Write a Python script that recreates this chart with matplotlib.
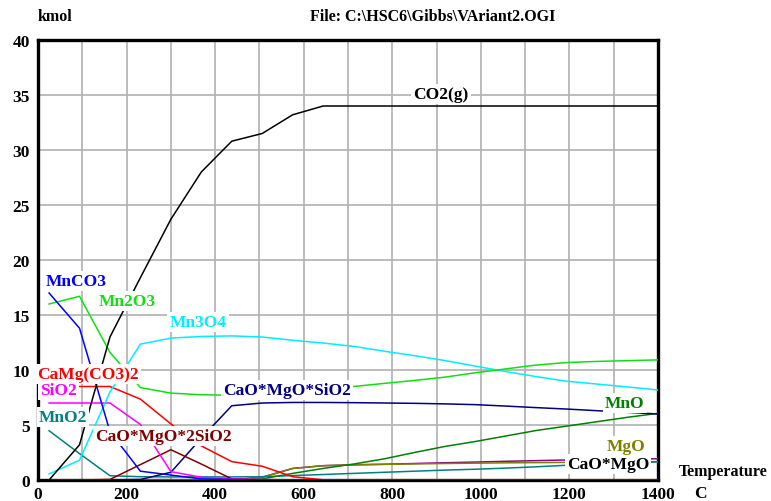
import matplotlib
matplotlib.use("Agg")
import matplotlib.pyplot as plt
from matplotlib.ticker import MultipleLocator

# equilibrium temperatures (C), 20 steps from 25 to 1400
temps = [25, 93.75, 162.5, 231.25, 300, 368.75, 437.5, 506.25, 575, 643.75,
         712.5, 781.25, 850, 918.75, 987.5, 1056.25, 1125, 1193.75, 1262.5,
         1331.25, 1400]

co2 = [0, 3.2, 13.0, 18.4, 23.7, 28.0, 30.8, 31.5, 33.2, 34.0,
       34.0, 34.0, 34.0, 34.0, 34.0, 34.0, 34.0, 34.0, 34.0, 34.0, 34.0]
mnco3 = [17.0, 13.8, 4.4, 0.8, 0.45, 0.1, 0.05, 0, 0, 0,
         0, 0, 0, 0, 0, 0, 0, 0, 0, 0, 0]
mn2o3 = [16.0, 16.7, 11.6, 8.4, 7.9, 7.75, 7.7, 7.75, 7.9, 8.2,
         8.5, 8.78, 9.05, 9.35, 9.75, 10.1, 10.45, 10.68, 10.78, 10.85, 10.92]
mn3o4 = [0.55, 1.8, 8.0, 12.35, 12.9, 13.05, 13.1, 13.0, 12.7, 12.45,
         12.15, 11.71, 11.3, 10.86, 10.35, 9.86, 9.4, 8.98, 8.72, 8.46, 8.18]
camgco3 = [8.5, 8.5, 8.5, 7.35, 5.1, 3.1, 1.67, 1.25, 0.3, 0.02,
           0, 0, 0, 0, 0, 0, 0, 0, 0, 0, 0]
sio2 = [7.0, 7.0, 7.0, 5.05, 0.76, 0.25, 0.1, 0.05, 0, 0,
        0, 0, 0, 0, 0, 0, 0, 0, 0, 0, 0]
mno2 = [4.48, 2.4, 0.39, 0.3, 0.28, 0.28, 0.28, 0.3, 0.4, 0.5,
        0.6, 0.7, 0.8, 0.9, 0.98, 1.08, 1.2, 1.34, 1.45, 1.55, 1.65]
cms2 = [0, 0, 0.05, 1.4, 2.75, 1.45, 0.1, 0, 0, 0,
        0, 0, 0, 0, 0, 0, 0, 0, 0, 0, 0]
cms = [0, 0, 0, 0.05, 0.7, 3.8, 6.75, 7.0, 7.05, 7.05,
       7.03, 7.0, 6.97, 6.92, 6.85, 6.72, 6.58, 6.45, 6.3, 6.15, 6.0]
mno = [0, 0, 0, 0, 0, 0.02, 0.05, 0.1, 0.6, 1.05,
       1.45, 1.92, 2.5, 3.05, 3.5, 4.0, 4.5, 4.9, 5.3, 5.7, 6.06]
mgo = [0, 0, 0, 0, 0, 0, 0, 0.25, 1.05, 1.3,
       1.38, 1.42, 1.46, 1.5, 1.53, 1.56, 1.58, 1.6, 1.62, 1.64, 1.66]
cao_mgo = [0, 0, 0, 0, 0, 0, 0, 0.25, 1.05, 1.3,
           1.38, 1.43, 1.5, 1.57, 1.63, 1.7, 1.76, 1.82, 1.86, 1.9, 1.93]

# (series, line colour, label text, label T, label kmol, text colour)
series = [
    (cao_mgo, "#900090", "CaO*MgO", 1287, 1.45, "black"),
    (mgo, "#808000", "MgO", 1327, 3.1, "#808000"),
    (mno2, "#008080", "MnO2", 56, 5.7, "#008080"),
    (mno, "#008000", "MnO", 1325, 7.0, "#008000"),
    (cms, "#000080", "CaO*MgO*SiO2", 562, 8.2, "#000080"),
    (cms2, "#800000", "CaO*MgO*2SiO2", 284, 4.0, "#800000"),
    (camgco3, "#ff0000", "CaMg(CO3)2", 113, 9.6, "#ff0000"),
    (sio2, "#ff00ff", "SiO2", 47, 8.2, "#ff00ff"),
    (mn3o4, "#00eeff", "Mn3O4", 361, 14.4, "#00eeff"),
    (mn2o3, "#10e010", "Mn2O3", 201, 16.3, "#10e010"),
    (mnco3, "#0000ff", "MnCO3", 86, 18.1, "#0000ff"),
    (co2, "black", "CO2(g)", 910, 35.1, "black"),
]

plt.rcParams["font.family"] = ["Liberation Serif", "DejaVu Serif"]
plt.rcParams["font.weight"] = "bold"

W, H = 771, 502
fig = plt.figure(figsize=(W / 100, H / 100), dpi=100)
ax = fig.add_axes([38 / W, 1 - 481 / H, 620 / W, 440 / H])

for i, (vals, col, name, lx, ly, tcol) in enumerate(series):
    ax.plot(temps, vals, color=col, lw=1.1, zorder=3)
    ax.text(lx, ly, name, color=tcol, fontsize=12.5, fontweight="bold",
            ha="center", va="center", zorder=6 + i * 0.01,
            bbox=dict(fc="white", ec="none", pad=1.5))

ax.set_xlim(0, 1400)
ax.set_ylim(0, 40)
ax.xaxis.set_major_locator(MultipleLocator(200))
ax.xaxis.set_minor_locator(MultipleLocator(100))
ax.yaxis.set_major_locator(MultipleLocator(5))
ax.grid(True, which="both", color="#b0b0b0", lw=1.2, zorder=0)
ax.set_axisbelow(True)
ax.tick_params(which="both", length=0, labelsize=12.5)
ax.tick_params(axis="x", pad=4)
ax.tick_params(axis="y", pad=6)
for lab in ax.get_xticklabels() + ax.get_yticklabels():
    lab.set_fontweight("bold")
for sp in ax.spines.values():
    sp.set_linewidth(2.4)

fig.text(38 / W, 1 - 17 / H, "kmol", ha="left", va="center", fontsize=11.5)
fig.text(433 / W, 1 - 17 / H, r"File: C:\HSC6\Gibbs\VAriant2.OGI",
         ha="center", va="center", fontsize=11.5)
fig.text(768 / W, 1 - 472 / H, "Temperature", ha="right", va="center",
         fontsize=11.5)
fig.text(700 / W, 1 - 494 / H, "C", ha="center", va="center", fontsize=12.5)

fig.savefig("out.png", dpi=100)
